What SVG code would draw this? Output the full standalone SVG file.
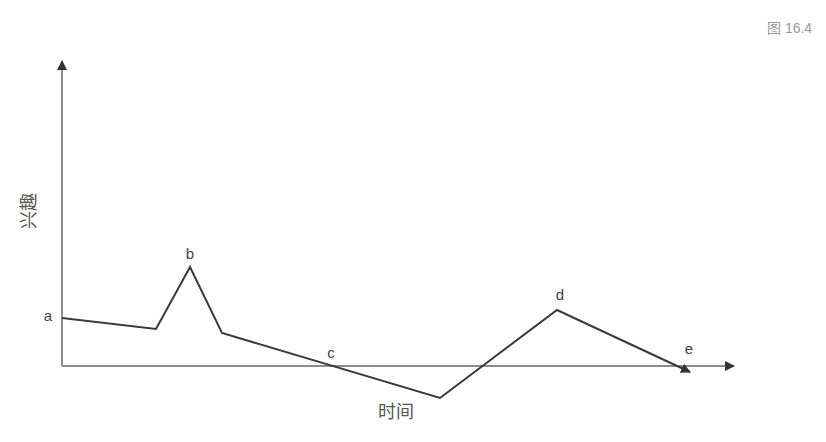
<svg xmlns="http://www.w3.org/2000/svg" width="826" height="442" viewBox="0 0 826 442">
<style>
.axis{stroke:#666;stroke-width:1.5;fill:none}
.curve{stroke:#3a3a3a;stroke-width:2;fill:none;stroke-linejoin:miter}
.lbl{font-family:"Liberation Sans","Noto Sans CJK SC",sans-serif;font-size:15px;fill:#444}
.cjk{font-family:"Noto Sans CJK SC",sans-serif;font-size:18px;fill:#555}
</style>
<defs>
<marker id="ah" markerWidth="10" markerHeight="10" refX="9" refY="5" orient="auto" markerUnits="userSpaceOnUse">
<path d="M0,0 L10,5 L0,10 Z" fill="#333"/>
</marker>
</defs>
<rect width="826" height="442" fill="#fff"/>
<text id="title" x="767" y="33" font-family="'Liberation Sans','Noto Sans CJK SC',sans-serif" font-size="14" fill="#999">图 16.4</text>
<g id="connectors">
<line id="y-axis" class="axis" x1="62" y1="366" x2="62" y2="61" marker-end="url(#ah)"/>
<line id="x-axis" class="axis" x1="62" y1="366" x2="734" y2="366" marker-end="url(#ah)"/>
<polyline id="curve" class="curve" points="62,318 156,329 190,267 222,333 440,398 557,310 690,372" marker-end="url(#ah)"/>
</g>
<g id="node-a"><text class="lbl" x="48" y="321" text-anchor="middle">a</text></g>
<g id="node-b"><text class="lbl" x="190" y="259" text-anchor="middle">b</text></g>
<g id="node-c"><text class="lbl" x="331" y="358" text-anchor="middle">c</text></g>
<g id="node-d"><text class="lbl" x="560" y="300" text-anchor="middle">d</text></g>
<g id="node-e"><text class="lbl" x="689" y="354" text-anchor="middle">e</text></g>
<g id="x-label"><text class="cjk" x="396" y="418" text-anchor="middle">时间</text></g>
<g id="y-label"><text class="cjk" x="0" y="0" text-anchor="middle" transform="translate(35,211) rotate(-90)">兴趣</text></g>
</svg>
